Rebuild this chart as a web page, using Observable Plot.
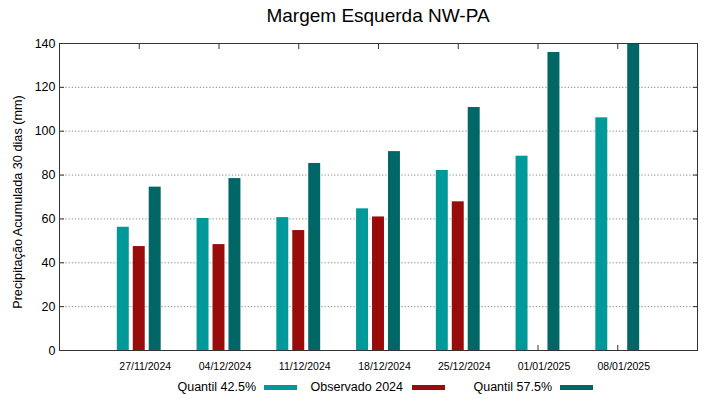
<!DOCTYPE html>
<html><head><meta charset="utf-8">
<script src="https://cdn.jsdelivr.net/npm/d3@7"></script>
<script src="https://cdn.jsdelivr.net/npm/@observablehq/plot@0.6"></script>
<style>
body{margin:0;background:#fff;font-family:"Liberation Sans",Arial,sans-serif;color:#000;}
#wrap{width:719px;height:399px;position:relative;overflow:hidden;}
#title{height:32px;line-height:32px;font-size:19px;text-align:center;padding-left:59px;padding-right:22px;box-sizing:border-box;}
#chart{height:344px;}
#legend{position:relative;height:23px;font-size:12.5px;}
.lt{position:absolute;top:0;line-height:22px;white-space:nowrap;}
.sw{position:absolute;top:9px;height:5px;width:33px;}
</style></head>
<body><div id="wrap"><div id="title">Margem Esquerda NW-PA</div><div id="chart"></div><div id="legend"></div></div>
<script>
const dates = ["27/11/2024","04/12/2024","11/12/2024","18/12/2024","25/12/2024","01/01/2025","08/01/2025"];
const q425 = [56.2, 60.2, 60.6, 64.6, 82.1, 88.6, 106.1];
const obs2024 = [47.4, 48.3, 54.7, 60.9, 67.8, null, null];
const q575 = [74.5, 78.4, 85.3, 90.7, 110.8, 135.9, 140];
const seriesNames = ["Quantil 42.5%", "Observado 2024", "Quantil 57.5%"];
const seriesColors = ["#009999", "#990c0c", "#006666"];
const yTicks = [0, 20, 40, 60, 80, 100, 120, 140];
const yLabel = "Precipitação Acumulada 30 dias (mm)";

const seriesValues = [q425, obs2024, q575];
const offsets = [-0.2, 0, 0.2];
const half = 0.075;
const rows = [];
dates.forEach((d, i) => seriesValues.forEach((arr, k) => {
  if (arr[i] != null) rows.push({i, k, series: seriesNames[k], value: arr[i]});
}));
const idx = dates.map((d, i) => i);

const chart = Plot.plot({
  width: 719, height: 344,
  marginTop: 11, marginBottom: 26, marginLeft: 59, marginRight: 22,
  style: {fontFamily: "'Liberation Sans', Arial, sans-serif", fontSize: "12.5px", color: "#000", background: "#fff"},
  x: {domain: [-1, 7], axis: null},
  y: {domain: [0, 140], axis: null},
  color: {domain: seriesNames, range: seriesColors},
  marks: [
    Plot.gridY(yTicks.filter(v => v > 0 && v < 140), {stroke: "#888", strokeOpacity: 1, strokeWidth: 1, strokeDasharray: "1.2,2"}),
    Plot.axisY({anchor: "left", ticks: yTicks, tickSize: -5, tickPadding: 9, stroke: "#333", label: null}),
    Plot.axisY({anchor: "right", ticks: yTicks, tickSize: -5, tickFormat: () => "", stroke: "#333", label: null}),
    Plot.axisX({anchor: "top", ticks: idx, tickSize: -5, tickFormat: () => "", stroke: "#333", label: null}),
    Plot.axisX({anchor: "bottom", ticks: idx, tickSize: -5, tickFormat: () => "", stroke: "#333", label: null}),
    Plot.axisX({anchor: "bottom", ticks: idx, tickSize: 0, tickPadding: 12, tickFormat: i => dates[i], fontSize: 10.5, dx: 6, label: null}),
    Plot.rectY(rows, {x1: d => d.i + offsets[d.k] - half, x2: d => d.i + offsets[d.k] + half, y1: 0, y2: "value", fill: "series", clip: true}),
    Plot.frame({stroke: "#333", strokeWidth: 1}),
    Plot.text([yLabel], {frameAnchor: "left", textAnchor: "middle", lineAnchor: "middle", rotate: -90, dx: -42, dy: 5, fontSize: 12.7, fill: "#000"})
  ]
});
document.getElementById("chart").appendChild(chart);

const legend = document.getElementById("legend");
const textRight = [256, 403, 552];
const swLeft = [264, 412, 560];
seriesNames.forEach((name, k) => {
  const t = document.createElement("span");
  t.className = "lt";
  t.textContent = name;
  t.style.right = (719 - textRight[k]) + "px";
  legend.appendChild(t);
  const s = document.createElement("span");
  s.className = "sw";
  s.style.left = swLeft[k] + "px";
  s.style.background = seriesColors[k];
  legend.appendChild(s);
});
</script>
</body></html>
